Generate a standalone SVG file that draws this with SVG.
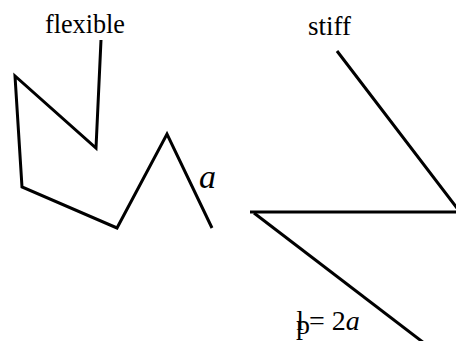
<svg xmlns="http://www.w3.org/2000/svg" width="456" height="341" viewBox="0 0 456 341">
<style>
.ln{fill:none;stroke:#000;stroke-width:3;stroke-linejoin:miter;stroke-linecap:butt}
text{font-family:"Liberation Serif","Times New Roman",serif;fill:#000}
.it{font-style:italic}
</style>
<rect width="456" height="341" fill="#fff"/>
<g id="flexible">
<text x="45" y="33" font-size="27" textLength="80" lengthAdjust="spacingAndGlyphs">flexible</text>
<polyline class="ln" points="101,40 96,148 15,76 22,187 117,228 167,134 212,228"/>
<text class="it" x="199" y="188" font-size="34">a</text>
</g>
<g id="stiff">
<text x="308" y="35" font-size="27" textLength="43" lengthAdjust="spacingAndGlyphs">stiff</text>
<polyline class="ln" points="337,51 460,212 250,212"/>
<line class="ln" x1="254" y1="213" x2="424" y2="343"/>
<text x="296" y="330" font-size="28">l<tspan dx="-8" dy="4">p</tspan><tspan dy="-4" dx="-1">= 2</tspan><tspan class="it">a</tspan></text>
</g>
</svg>
